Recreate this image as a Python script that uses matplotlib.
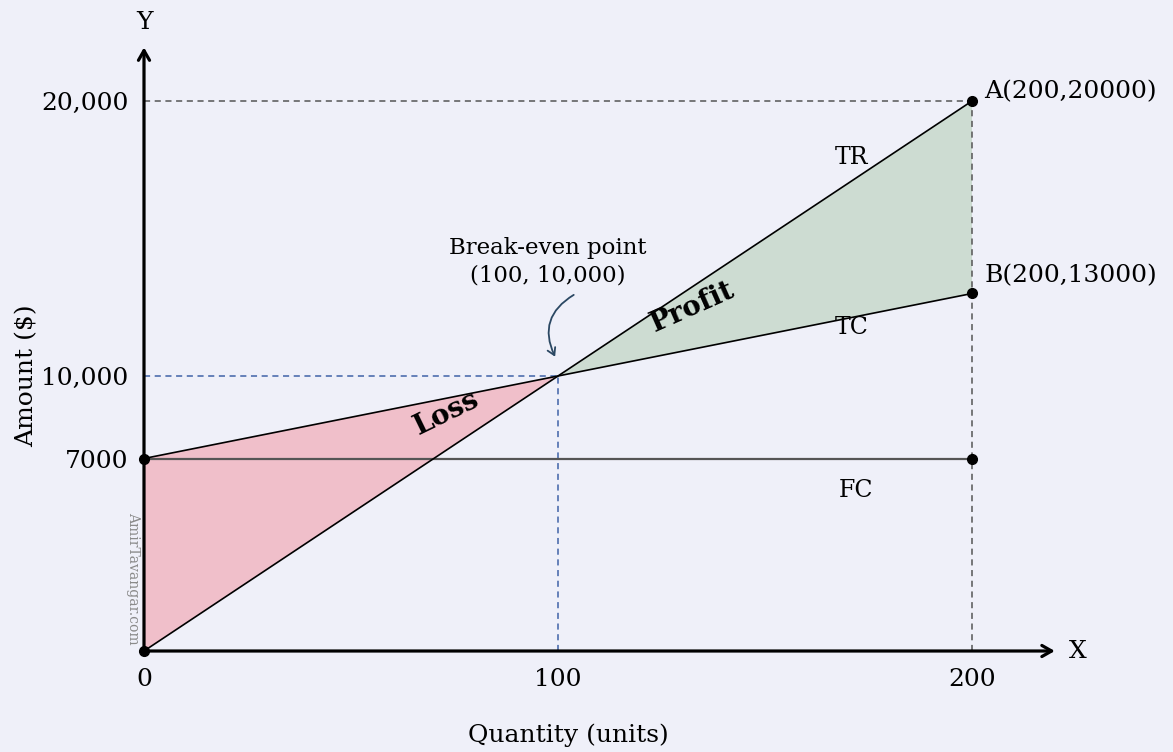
import matplotlib.pyplot as plt

# break-even data
quantity = [0, 100, 200]
total_revenue = [0, 10000, 20000]
total_cost = [7000, 10000, 13000]
fixed_cost = [7000, 7000, 7000]
ytick_vals = [7000, 10000, 20000]
ytick_labels = ['7000', '10,000', '20,000']
xtick_vals = [0, 100, 200]
xtick_labels = ['0', '100', '200']

bg = '#eff0f9'
plt.rcParams['font.family'] = 'DejaVu Serif'

fig = plt.figure(figsize=(11.73, 7.52), dpi=100, facecolor=bg)
ax = fig.add_axes([0, 0, 1, 1])
ax.set_facecolor(bg)

# pixel layout: x=0 at 144px, 4.14 px/unit; y=0 at 651px, 0.0275 px/unit
ax.set_xlim(-144 / 4.14, (1173 - 144) / 4.14)
ax.set_ylim(-(752 - 651) / 0.0275, 651 / 0.0275)

# invisible spines through the origin carry the tick labels
for s in ['top', 'right']:
    ax.spines[s].set_visible(False)
ax.spines['left'].set_position(('data', 0))
ax.spines['bottom'].set_position(('data', 0))
ax.spines['left'].set_color('none')
ax.spines['bottom'].set_color('none')
ax.set_yticks(ytick_vals, ytick_labels)
ax.set_xticks(xtick_vals, xtick_labels)
ax.tick_params(length=0, labelsize=18)
ax.tick_params(axis='y', pad=11)
ax.tick_params(axis='x', pad=12)

# filled regions
ax.fill([quantity[0], quantity[0], quantity[1]],
        [total_revenue[0], total_cost[0], total_cost[1]],
        color='#f0bfca', lw=0, zorder=1)
ax.fill([quantity[1], quantity[2], quantity[2]],
        [total_cost[1], total_cost[2], total_revenue[2]],
        color='#cddcd2', lw=0, zorder=1)

# guide lines
ax.plot([0, quantity[2]], [total_revenue[2]] * 2, ls=(0, (4, 3)), color='#555555', lw=1.1, zorder=2)
ax.plot([quantity[2]] * 2, [0, total_revenue[2]], ls=(0, (4, 3)), color='#555555', lw=1.1, zorder=2)
ax.plot([0, quantity[1]], [total_cost[1]] * 2, ls=(0, (4, 3)), color='#3f62a8', lw=1.1, zorder=2)
ax.plot([quantity[1]] * 2, [0, total_cost[1]], ls=(0, (4, 3)), color='#3f62a8', lw=1.1, zorder=2)

# cost / revenue lines
ax.plot(quantity, fixed_cost, color='#555555', lw=1.6, zorder=3)
ax.plot(quantity, total_revenue, color='black', lw=1.2, zorder=3)
ax.plot(quantity, total_cost, color='black', lw=1.2, zorder=3)

# points
ax.plot([0, 0, quantity[2], quantity[2], quantity[2]],
        [total_revenue[0], total_cost[0], total_revenue[2], total_cost[2], fixed_cost[2]],
        'o', color='black', ms=7, zorder=6)

# axes arrows
arr = dict(arrowstyle='->,head_length=0.7,head_width=0.4', color='black', lw=2.3, shrinkA=0, shrinkB=0)
ax.annotate('', xy=(0, 21950), xytext=(0, -100), arrowprops=arr, zorder=5)
ax.annotate('', xy=(220, 0), xytext=(-0.5, 0), arrowprops=arr, zorder=5)
ax.text(0, 22870, 'Y', fontsize=18, ha='center', va='center')
ax.text(225.5, 0, 'X', fontsize=18, ha='center', va='center')

ax.text(-28.3, 10000, 'Amount ($)', fontsize=18, rotation=90, ha='center', va='center')
ax.text(102.5, -3050, 'Quantity (units)', fontsize=18, ha='center', va='center')

# annotations
ax.text(203, 20330, 'A(200,20000)', fontsize=18, ha='left', va='center')
ax.text(203, 13630, 'B(200,13000)', fontsize=18, ha='left', va='center')
ax.text(171, 17930, 'TR', fontsize=17, ha='center', va='center')
ax.text(171, 11750, 'TC', fontsize=17, ha='center', va='center')
ax.text(172, 5850, 'FC', fontsize=17, ha='center', va='center')
ax.text(97.5, 14150, 'Break-even point\n(100, 10,000)', fontsize=16.5,
        ha='center', va='center', linespacing=1.3)
ax.annotate('', xy=(99.3, 10700), xytext=(103.8, 12950),
            arrowprops=dict(arrowstyle='->,head_length=0.5,head_width=0.3', color='#2b4863',
                            lw=1.3, connectionstyle='arc3,rad=0.45', shrinkA=0, shrinkB=0))
ax.text(73.2, 8650, 'Loss', fontsize=20, fontweight='bold', rotation=26,
        ha='center', va='center')
ax.text(132.4, 12500, 'Profit', fontsize=20, fontweight='bold', rotation=24,
        ha='center', va='center')
ax.text(-2.7, 2650, 'AmirTavangar.com', fontsize=10, color='#8a8a8a', rotation=-90,
        ha='center', va='center')

fig.savefig('out.png', dpi=100, facecolor=bg)
